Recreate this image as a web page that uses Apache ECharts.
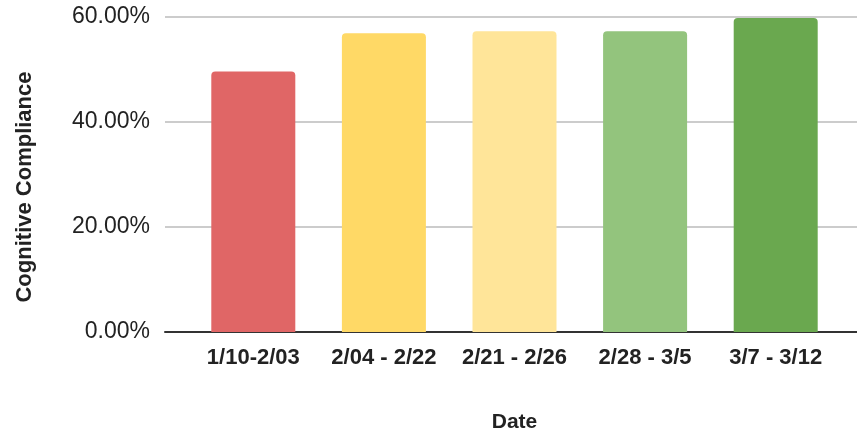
<!DOCTYPE html>
<html>
<head>
<meta charset="utf-8">
<script src="https://cdn.jsdelivr.net/npm/echarts@6/dist/echarts.min.js"></script>
<style>
  html, body { margin: 0; padding: 0; background: #fff; }
  #chart { width: 857px; height: 430px; }
</style>
</head>
<body>
<div id="chart"></div>
<script>
// Weekly cognitive compliance by date range
const categories = ['1/10-2/03', '2/04 - 2/22', '2/21 - 2/26', '2/28 - 3/5', '3/7 - 3/12'];
const compliance = [49.6, 56.9, 57.3, 57.3, 59.8];
const barColors = ['#e06666', '#ffd966', '#ffe599', '#93c47d', '#6aa84f'];
const yTicks = [0, 20, 40, 60];

const font = '"Liberation Sans", Arial, sans-serif';
const yMin = yTicks[0], yMax = yTicks[yTicks.length - 1], yStep = yTicks[1] - yTicks[0];

const chart = echarts.init(document.getElementById('chart'), null, { renderer: 'canvas' });
chart.setOption({
  animation: false,
  grid: [
    // full-width grid carrying the value axis and its gridlines
    { left: 165, right: 0, top: 17, bottom: 98, containLabel: false, outerBoundsMode: 'none' },
    // inner grid holding the bars and the category labels
    { left: 188, width: 653, top: 17, bottom: 98, containLabel: false, outerBoundsMode: 'none' }
  ],
  xAxis: [
    {
      gridIndex: 0, type: 'category', data: [''],
      axisLine: { show: true, lineStyle: { color: '#333', width: 2 } },
      axisTick: { show: false }, axisLabel: { show: false }
    },
    {
      gridIndex: 1, type: 'category', data: categories,
      axisLine: { show: false }, axisTick: { show: false },
      axisLabel: {
        interval: 0, hideOverlap: false,
        color: '#222', fontFamily: font, fontWeight: 'bold', fontSize: 22, margin: 15
      },
      name: 'Date', nameLocation: 'middle', nameGap: 80,
      nameTextStyle: { color: '#222', fontFamily: font, fontWeight: 'bold', fontSize: 21 }
    }
  ],
  yAxis: [
    {
      gridIndex: 0, type: 'value', min: yMin, max: yMax, interval: yStep,
      axisLine: { show: false }, axisTick: { show: false },
      splitLine: { lineStyle: { color: '#cccccc', width: 2 } },
      axisLabel: {
        color: '#222', fontFamily: font, fontSize: 23, margin: 15,
        formatter: v => v.toFixed(2) + '%'
      },
      name: 'Cognitive Compliance', nameLocation: 'middle', nameGap: 129,
      nameTextStyle: {
        color: '#222', fontFamily: font, fontWeight: 'bold', fontSize: 22,
        padding: [0, 25, 0, 0]
      }
    },
    {
      gridIndex: 1, type: 'value', min: yMin, max: yMax, interval: yStep,
      show: false
    }
  ],
  series: [{
    type: 'bar',
    xAxisIndex: 1, yAxisIndex: 1,
    barWidth: 84,
    data: compliance.map((v, i) => ({
      value: v,
      itemStyle: { color: barColors[i], borderRadius: [4, 4, 0, 0] }
    })),
    z: 1
  }]
});
</script>
</body>
</html>
